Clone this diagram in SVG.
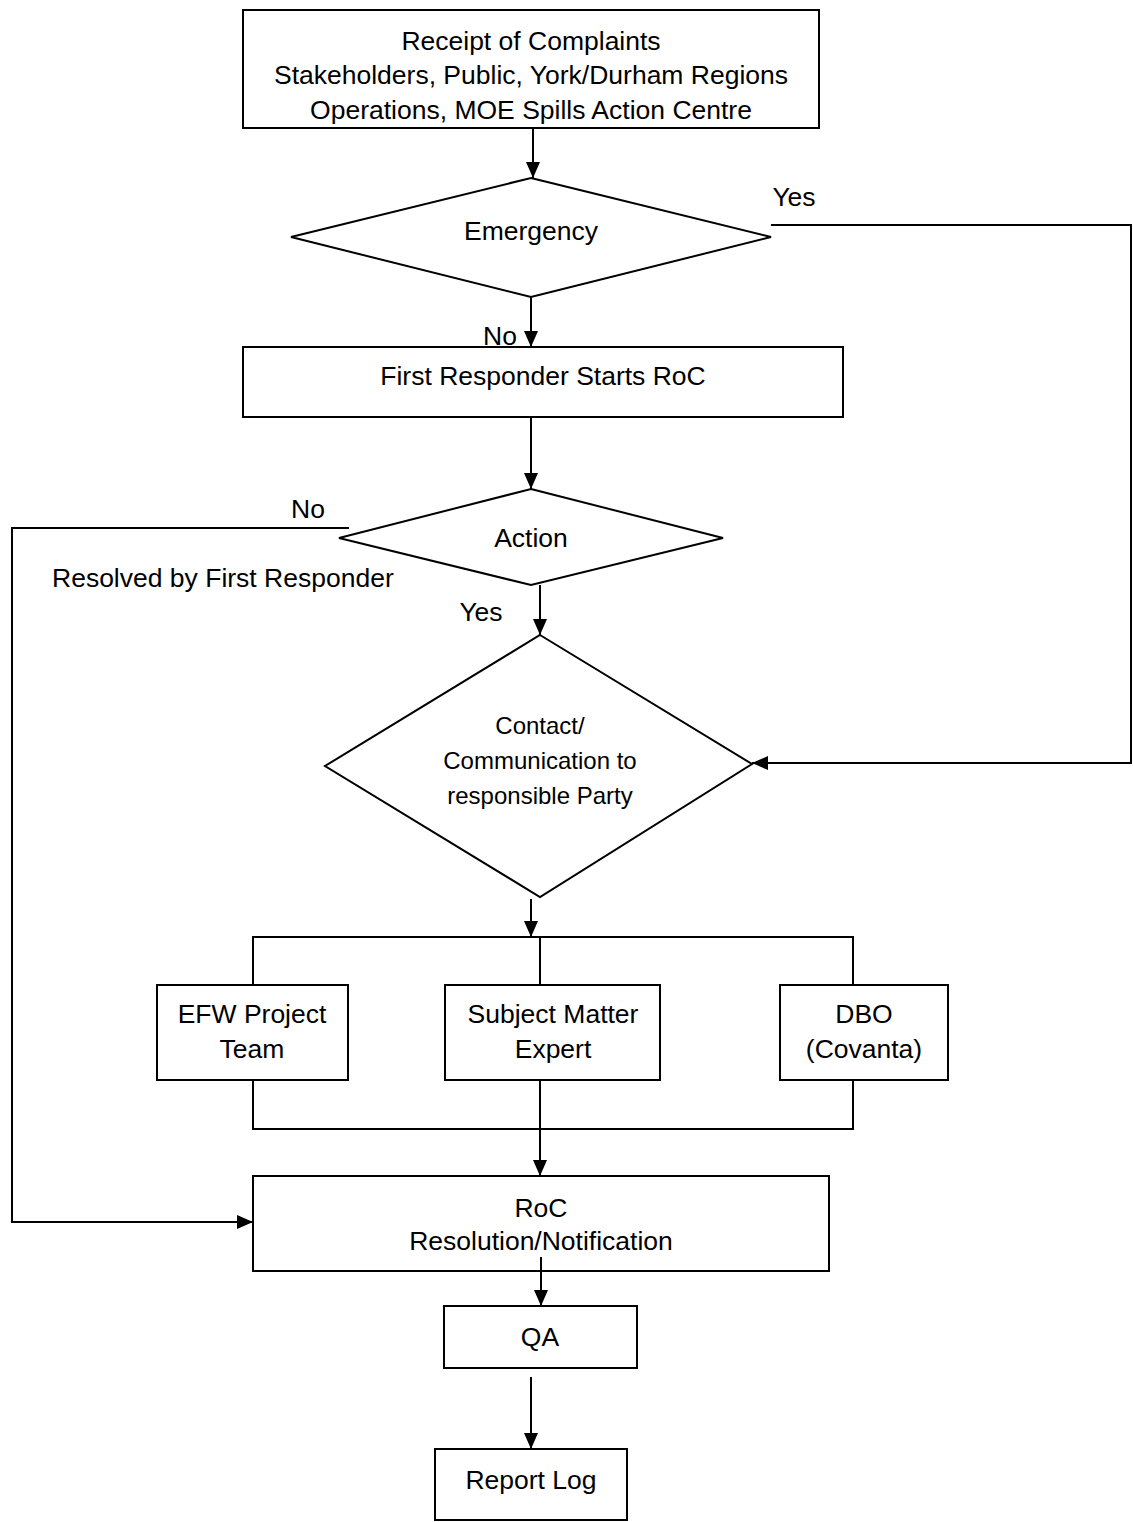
<svg xmlns="http://www.w3.org/2000/svg" width="1133" height="1522" viewBox="0 0 1133 1522">
  <style>
    .box { fill: #ffffff; stroke: #000000; stroke-width: 2; }
    .wire { fill: none; stroke: #000000; stroke-width: 2; }
    .t { font-family: "Liberation Sans", Arial, sans-serif; font-size: 26.5px; fill: #000000; text-anchor: middle; }
    .s { font-family: "Liberation Sans", Arial, sans-serif; font-size: 24px; fill: #000000; text-anchor: middle; }
    .l { font-family: "Liberation Sans", Arial, sans-serif; font-size: 26.5px; fill: #000000; }
  </style>
  <defs>
    <marker id="arrow" markerUnits="userSpaceOnUse" markerWidth="16" markerHeight="14" refX="16" refY="7" orient="auto">
      <path d="M0,0 L16,7 L0,14 Z" fill="#000000"/>
    </marker>
  </defs>

  <rect width="1133" height="1522" fill="#ffffff"/>

  <!-- connectors -->
  <g id="connectors">
    <line class="wire" x1="533" y1="128" x2="533" y2="178" marker-end="url(#arrow)"/>
    <line class="wire" x1="531" y1="297" x2="531" y2="347" marker-end="url(#arrow)"/>
    <path class="wire" d="M771,225 H1131 V763 H752" marker-end="url(#arrow)"/>
    <line class="wire" x1="531" y1="417" x2="531" y2="489" marker-end="url(#arrow)"/>
    <path class="wire" d="M349,528 H12 V1222 H253" marker-end="url(#arrow)"/>
    <line class="wire" x1="540" y1="585" x2="540" y2="635" marker-end="url(#arrow)"/>
    <line class="wire" x1="531" y1="899" x2="531" y2="937" marker-end="url(#arrow)"/>
    <path class="wire" d="M253,985 V937 H853 V985"/>
    <line class="wire" x1="540" y1="937" x2="540" y2="985"/>
    <path class="wire" d="M253,1080 V1129 H853 V1080"/>
    <line class="wire" x1="540" y1="1080" x2="540" y2="1176" marker-end="url(#arrow)"/>
    <line class="wire" x1="531" y1="1377" x2="531" y2="1449" marker-end="url(#arrow)"/>
  </g>

  <!-- branch labels -->
  <g id="labels">
    <text class="t" x="794" y="206">Yes</text>
    <text class="t" x="500" y="345">No</text>
    <text class="t" x="308" y="518">No</text>
    <text class="l" x="52" y="587">Resolved by First Responder</text>
    <text class="t" x="481" y="621">Yes</text>
  </g>

  <g id="receipt">
    <rect class="box" x="243" y="10" width="576" height="118"/>
    <text class="t" x="531" y="50">Receipt of Complaints</text>
    <text class="t" x="531" y="84">Stakeholders, Public, York/Durham Regions</text>
    <text class="t" x="531" y="119">Operations, MOE Spills Action Centre</text>
    <!-- frame redrawn on top so the last line's descenders sit under it -->
    <rect x="243" y="10" width="576" height="118" fill="none" stroke="#000" stroke-width="2"/>
  </g>

  <g id="emergency">
    <polygon class="box" points="531,178 771,237 531,297 291,237"/>
    <text class="t" x="531" y="240">Emergency</text>
  </g>

  <g id="first-responder">
    <rect class="box" x="243" y="347" width="600" height="70"/>
    <text class="t" x="543" y="385">First Responder Starts RoC</text>
  </g>

  <g id="action">
    <polygon class="box" points="531,489 723,538 531,585 339,538"/>
    <text class="t" x="531" y="547">Action</text>
  </g>

  <g id="contact">
    <polygon class="box" points="540,635 752,764 540,897 325,766"/>
    <text class="s" x="540" y="734">Contact/</text>
    <text class="s" x="540" y="769">Communication to</text>
    <text class="s" x="540" y="804">responsible Party</text>
  </g>

  <g id="efw-team">
    <rect class="box" x="157" y="985" width="191" height="95"/>
    <text class="t" x="252" y="1023">EFW Project</text>
    <text class="t" x="252" y="1058">Team</text>
  </g>

  <g id="subject-expert">
    <rect class="box" x="445" y="985" width="215" height="95"/>
    <text class="t" x="553" y="1023">Subject Matter</text>
    <text class="t" x="553" y="1058">Expert</text>
  </g>

  <g id="dbo">
    <rect class="box" x="780" y="985" width="168" height="95"/>
    <text class="t" x="864" y="1023">DBO</text>
    <text class="t" x="864" y="1058">(Covanta)</text>
  </g>

  <g id="resolution">
    <rect class="box" x="253" y="1176" width="576" height="95"/>
    <text class="t" x="541" y="1217">RoC</text>
    <text class="t" x="541" y="1250">Resolution/Notification</text>
    <line class="wire" x1="541" y1="1257" x2="541" y2="1306" marker-end="url(#arrow)"/>
  </g>

  <g id="qa">
    <rect class="box" x="444" y="1306" width="193" height="62"/>
    <text class="t" x="540" y="1346">QA</text>
  </g>

  <g id="report-log">
    <rect class="box" x="435" y="1449" width="192" height="71"/>
    <text class="t" x="531" y="1489">Report Log</text>
  </g>
</svg>
